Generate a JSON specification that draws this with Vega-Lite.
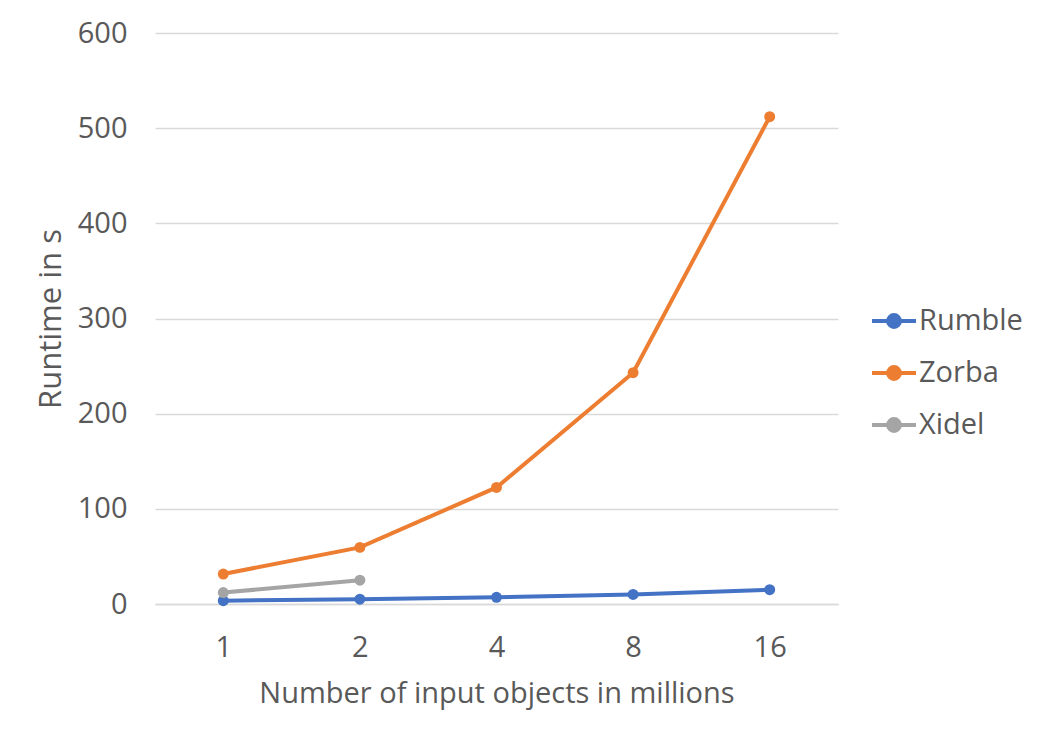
{
  "$schema": "https://vega.github.io/schema/vega-lite/v6.json",
  "width": 683,
  "height": 571,
  "autosize": {"type": "none"},
  "padding": {"left": 155, "top": 33, "right": 205, "bottom": 135},
  "background": "white",
  "config": {
    "view": {"stroke": null},
    "font": "Open Sans",
    "axis": {"labelFont": "Open Sans", "titleFont": "Open Sans", "labelColor": "#595959", "titleColor": "#595959", "labelFontSize": 29, "titleFontSize": 29, "titleFontWeight": "normal"},
    "legend": {"labelFont": "Open Sans", "labelColor": "#595959", "labelFontSize": 29}
  },
  "data": {
    "values": [
      {"objects": "1", "system": "Rumble", "runtime": 3.5},
      {"objects": "2", "system": "Rumble", "runtime": 5},
      {"objects": "4", "system": "Rumble", "runtime": 7},
      {"objects": "8", "system": "Rumble", "runtime": 10},
      {"objects": "16", "system": "Rumble", "runtime": 15},
      {"objects": "1", "system": "Zorba", "runtime": 31.5},
      {"objects": "2", "system": "Zorba", "runtime": 59.5},
      {"objects": "4", "system": "Zorba", "runtime": 122.5},
      {"objects": "8", "system": "Zorba", "runtime": 243},
      {"objects": "16", "system": "Zorba", "runtime": 512},
      {"objects": "1", "system": "Xidel", "runtime": 12},
      {"objects": "2", "system": "Xidel", "runtime": 25}
    ]
  },
  "mark": {"type": "line", "strokeWidth": 4, "point": {"filled": true, "size": 120, "opacity": 1}},
  "encoding": {
    "x": {
      "field": "objects",
      "type": "ordinal",
      "sort": ["1", "2", "4", "8", "16"],
      "scale": {"type": "point", "padding": 0.5},
      "axis": {"title": "Number of input objects in millions", "labelAngle": 0, "ticks": false, "domainColor": "#D9D9D9", "domainWidth": 1.5, "labelPadding": 29, "titlePadding": 17, "grid": false}
    },
    "y": {
      "field": "runtime",
      "type": "quantitative",
      "scale": {"domain": [0, 600]},
      "axis": {"title": "Runtime in s", "titleFontSize": 31, "values": [0, 100, 200, 300, 400, 500, 600], "ticks": false, "domain": false, "gridColor": "#D9D9D9", "gridWidth": 1.5, "labelPadding": 28, "titlePadding": 10}
    },
    "color": {
      "field": "system",
      "type": "nominal",
      "sort": ["Rumble", "Zorba", "Xidel"],
      "scale": {"domain": ["Rumble", "Zorba", "Xidel"], "range": ["#4472C4", "#ED7D31", "#A5A5A5"]},
      "legend": {
        "title": null,
        "orient": "none",
        "legendX": 715,
        "legendY": 264,
        "symbolType": "M-1,0L1,0M-0.27,0a0.27,0.27 0 1,0 0.54,0a0.27,0.27 0 1,0 -0.54,0",
        "symbolSize": 1936,
        "symbolStrokeWidth": 4,
        "rowPadding": 13,
        "labelOffset": 1,
        "padding": 0,
        "encode": {"symbols": {"update": {"fill": {"scale": "color", "field": "value"}, "fillOpacity": {"value": 1}}}}
      }
    }
  }
}
